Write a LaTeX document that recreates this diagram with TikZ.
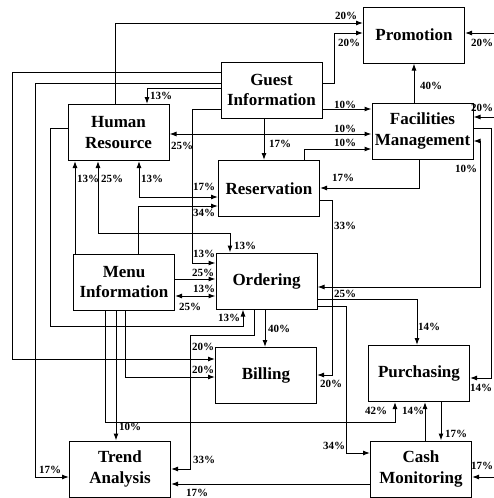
\documentclass[tikz,border=0pt]{standalone}
\usepackage{fontspec}
\setmainfont{Liberation Serif}
\usetikzlibrary{arrows.meta}

\tikzset{
  box/.style={draw, line width=1pt, minimum width=101pt, minimum height=56pt,
    inner sep=0pt, align=center, font=\fontsize{17}{20.5}\selectfont\bfseries},
  pct/.style={inner sep=0pt, font=\fontsize{11}{12}\selectfont\bfseries},
  link/.style={line width=1pt},
  arr/.style={link, -{Latex[length=7pt,width=5pt]}},
  barr/.style={link, {Latex[length=7pt,width=5pt]}-{Latex[length=7pt,width=5pt]}},
}

\begin{document}
\begin{tikzpicture}[x=1pt,y=-1pt]
\useasboundingbox (0,0) rectangle (494,498);

% departments
\node[box] (prom)  at (414,35)      {Promotion};
\node[box] (guest) at (271.5,90)    {Guest\\Information};
\node[box] (hr)    at (118.5,132.5) {Human\\Resource};
\node[box] (fac)   at (422.5,131)   {Facilities\\Management};
\node[box] (res)   at (269,188.5)   {Reservation};
\node[box] (menu)  at (124,282)     {Menu\\Information};
\node[box] (ord)   at (266.5,281)   {Ordering};
\node[box] (bill)  at (266,375.5)   {Billing};
\node[box] (purch) at (419,373.5)   {Purchasing};
\node[box] (cash)  at (421,469)     {Cash\\Monitoring};
\node[box] (trend) at (120,469)     {Trend\\Analysis};

% incoming links from the right margin
\coordinate (inP) at (494,33);
\coordinate (inF) at (494,117);
\coordinate (inC) at (494,477);

% links
\draw[arr] (hr.north -| 115,0) |- (prom.west |- 0,23);
\draw[arr] (guest.east |- 0,83) -| (334,33) -- (prom.west |- 0,33);
\draw[arr] (fac.north -| 414,0) -- (prom.south -| 414,0);
\draw[arr] (inP) -- (prom.east |- inP);
\draw[arr] (inF) -- (fac.east |- inF);
\draw[arr] (fac.east |- 0,128) -| (491,378) -- (purch.east |- 0,378);
\draw[barr] (ord.east |- 0,287) -| (480,141) -- (fac.east |- 0,141);
\draw[arr] (guest.east |- 0,109) -- (fac.west |- 0,109);
\draw[barr] (hr.east |- 0,134) -- (fac.west |- 0,134);
\draw[arr] (res.north -| 304,0) |- (fac.west |- 0,149);
\draw[arr] (guest.south -| 264,0) -- (res.north -| 264,0);
\draw[arr] (fac.south -| 419,0) |- (res.east |- 0,188);
\draw[arr] (res.east |- 0,200) -| (332,375) -- (bill.east |- 0,375);
\draw[arr] (ord.east |- 0,299) -| (purch.north -| 417,0);
\draw[arr] (ord.east |- 0,306) -| (346,453) -- (cash.west |- 0,453);
\draw[arr] (ord.south -| 254,0) |- (190,335) |- (trend.east |- 0,469);
\draw[arr] (ord.south -| 265,0) -- (bill.north -| 265,0);
\draw[arr] (hr.west |- 0,128) -| (50,326) -| (ord.south -| 243,0);
\draw[arr] (guest.west |- 0,88) -| (hr.north -| 147,0);
\draw[arr] (guest.west |- 0,72) -| (12,359) -- (bill.west |- 0,359);
\draw[arr] (guest.west |- 0,83) -| (35,477) -- (trend.west |- 0,477);
\draw[arr] (guest.west |- 0,109) -| (192,263) -- (ord.west |- 0,263);
\draw[barr] (hr.south -| 139,0) |- (res.west |- 0,197);
\draw[barr] (hr.south -| 98,0) |- (230,233) -- (ord.north -| 230,0);
\draw[arr] (menu.north -| 75,0) -- (hr.south -| 75,0);
\draw[arr] (menu.north -| 138,0) |- (res.west |- 0,206);
\draw[arr] (menu.east |- 0,279) -- (ord.west |- 0,279);
\draw[barr] (menu.east |- 0,296) -- (ord.west |- 0,296);
\draw[arr] (menu.south -| 125,0) |- (bill.west |- 0,377);
\draw[arr] (menu.south -| 116,0) -- (trend.north -| 116,0);
\draw[arr] (menu.south -| 105,0) |- (395,422) -- (purch.south -| 395,0);
\draw[arr] (purch.south -| 441,0) -- (cash.north -| 441,0);
\draw[arr] (cash.north -| 425,0) -- (purch.south -| 425,0);
\draw[arr] (cash.west |- 0,484) -- (trend.east |- 0,484);
\draw[arr] (inC) -- (cash.east |- inC);

% link shares
\node[pct] (p01) at (346,16)  {20\%};
\node[pct] (p02) at (349,43)  {20\%};
\node[pct] (p03) at (431,86)  {40\%};
\node[pct] (p04) at (482,43)  {20\%};
\node[pct] (p05) at (482,108) {20\%};
\node[pct] (p06) at (466,169) {10\%};
\node[pct] (p07) at (481,388) {14\%};
\node[pct] (p08) at (345,294) {25\%};
\node[pct] (p09) at (429,327) {14\%};
\node[pct] (p10) at (334,446) {34\%};
\node[pct] (p11) at (376,411) {42\%};
\node[pct] (p12) at (413,411) {14\%};
\node[pct] (p13) at (456,434) {17\%};
\node[pct] (p14) at (482,466) {17\%};
\node[pct] (p15) at (197,493) {17\%};
\node[pct] (p16) at (204,460) {33\%};
\node[pct] (p17) at (50,470)  {17\%};
\node[pct] (p18) at (130,427) {10\%};
\node[pct] (p19) at (203,347) {20\%};
\node[pct] (p20) at (203,370) {20\%};
\node[pct] (p21) at (331,384) {20\%};
\node[pct] (p22) at (279,329) {40\%};
\node[pct] (p23) at (229,318) {13\%};
\node[pct] (p24) at (204,289) {13\%};
\node[pct] (p25) at (190,307) {25\%};
\node[pct] (p26) at (203,273) {25\%};
\node[pct] (p27) at (204,254) {13\%};
\node[pct] (p28) at (245,246) {13\%};
\node[pct] (p29) at (204,187) {17\%};
\node[pct] (p30) at (204,213) {34\%};
\node[pct] (p31) at (88,179)  {13\%};
\node[pct] (p32) at (112,179) {25\%};
\node[pct] (p33) at (152,179) {13\%};
\node[pct] (p34) at (161,96)  {13\%};
\node[pct] (p35) at (182,146) {25\%};
\node[pct] (p36) at (345,105) {10\%};
\node[pct] (p37) at (345,129) {10\%};
\node[pct] (p38) at (345,143) {10\%};
\node[pct] (p39) at (280,144) {17\%};
\node[pct] (p40) at (343,178) {17\%};
\node[pct] (p41) at (345,226) {33\%};
\end{tikzpicture}
\end{document}
